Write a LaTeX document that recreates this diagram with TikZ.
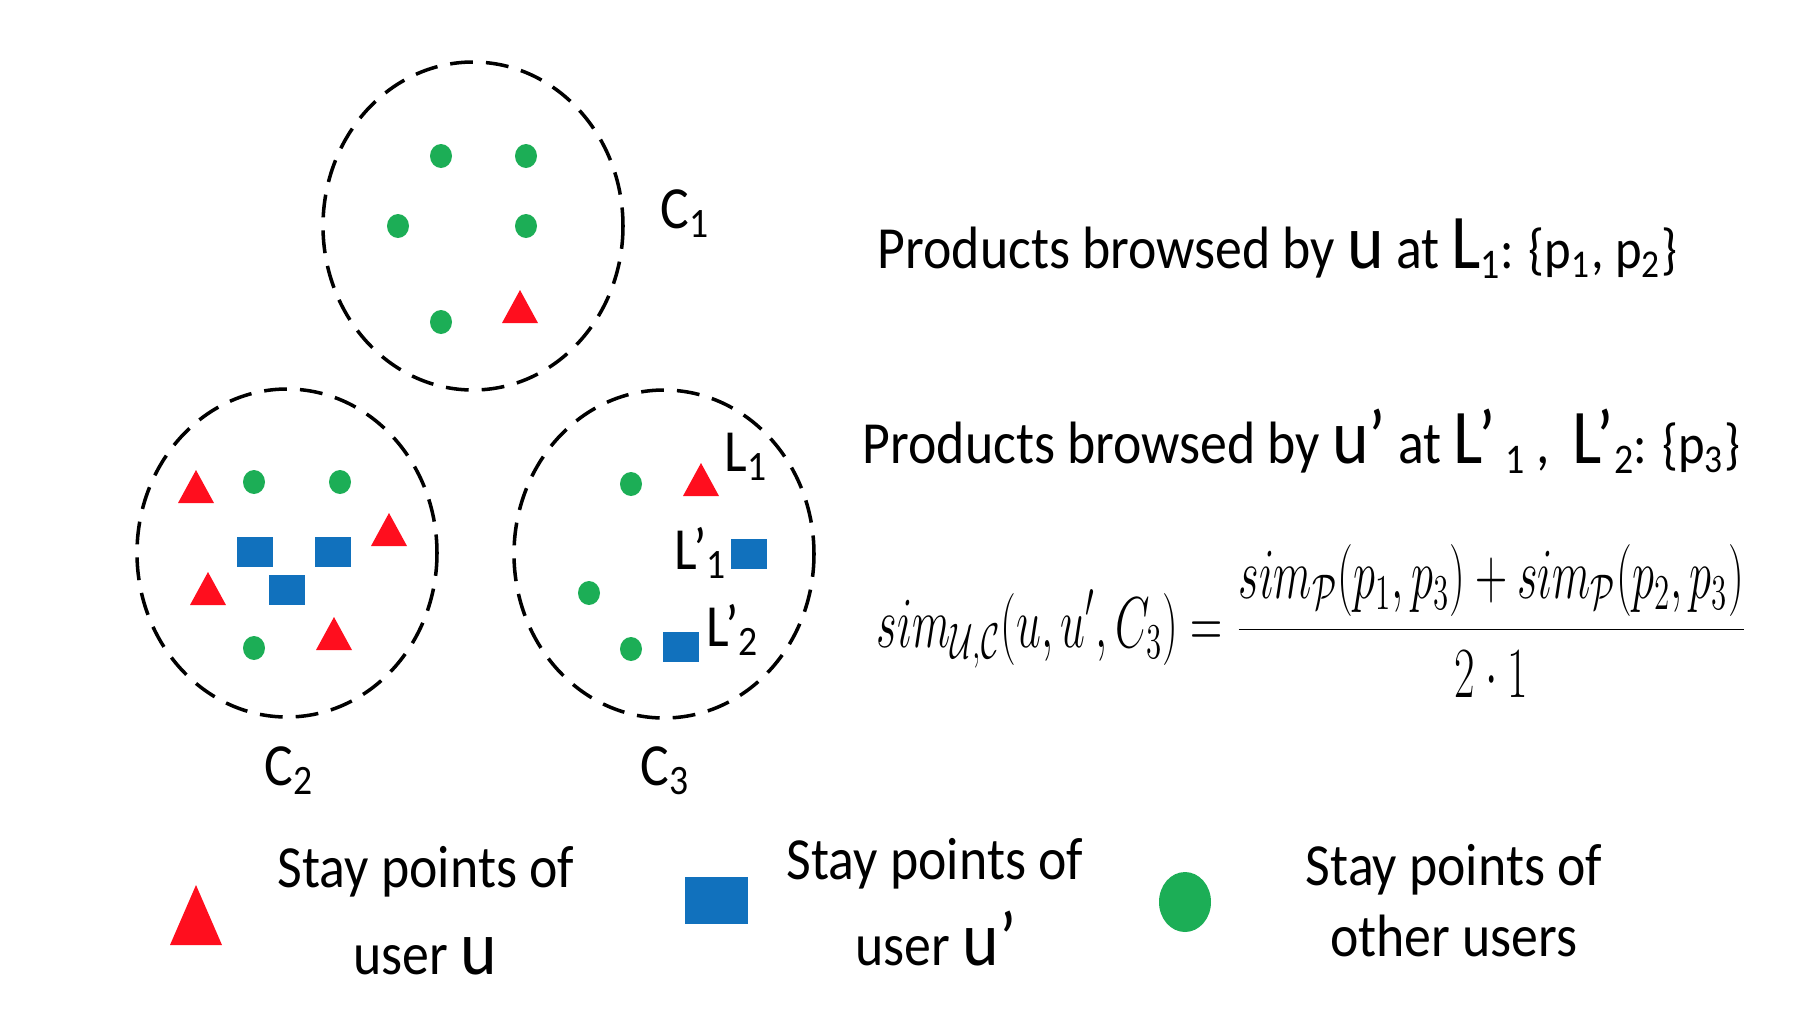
\documentclass[tikz,border=0pt]{standalone}
\usepackage{fontspec}
\setmainfont{Carlito}[FakeStretch=0.9]
\usepackage{graphicx}

\definecolor{spred}{RGB}{255,14,30}
\definecolor{spblue}{RGB}{17,113,189}
\definecolor{spgreen}{RGB}{28,174,86}

\newcommand{\bigf}{\fontsize{22}{24}\selectfont}
\newcommand{\smallf}{\fontsize{16}{18}\selectfont}
\newcommand{\lowsub}[1]{\raisebox{-0.1cm}{\fontsize{12}{12}\selectfont #1}}

\tikzset{
  cluster/.style={draw=black, line width=1pt, dash pattern=on 6.5pt off 3.7pt},
  txt/.style={inner sep=0pt, anchor=base},
  ptu/.pic={\fill[spred] (-18,0) -- (18,0) -- (0,-33) -- cycle;},
  ptv/.pic={\fill[spblue] (-18,-15) rectangle (18,15);},
  pto/.pic={\fill[spgreen] (0,0) ellipse [x radius=11, y radius=12];}
}

\begin{document}
\begin{tikzpicture}[x=0.01cm, y=-0.01cm, font=\fontsize{17}{20}\selectfont]
    \useasboundingbox (0,0) rectangle (1802,1014);

    % the three clusters
    \draw[cluster] (473,226) ellipse [x radius=150, y radius=164];
    \draw[cluster] (287,553) ellipse [x radius=150, y radius=164];
    \draw[cluster] (664,554) ellipse [x radius=150, y radius=164];

    \node[txt, anchor=base west] (c1) at (660,228) {C\textsubscript{1}};
    \node[txt, anchor=base west] (c2) at (264,785) {C\textsubscript{2}};
    \node[txt, anchor=base west] (c3) at (640,785) {C\textsubscript{3}};

    % C1
    \pic at (441,156) {pto};
    \pic at (526,156) {pto};
    \pic at (398,226) {pto};
    \pic at (526,226) {pto};
    \pic at (441,322) {pto};
    \pic at (520,323) {ptu};

    % C2
    \pic at (196,503) {ptu};
    \pic at (389,546) {ptu};
    \pic at (208,605) {ptu};
    \pic at (334,650) {ptu};
    \pic at (254,482) {pto};
    \pic at (340,482) {pto};
    \pic at (254,648) {pto};
    \pic at (255,552) {ptv};
    \pic at (333,552) {ptv};
    \pic at (287,590) {ptv};

    % C3
    \pic at (631,484) {pto};
    \pic at (589,593) {pto};
    \pic at (631,649) {pto};
    \pic at (701,496) {ptu};
    \pic at (749,554) {ptv};
    \pic at (681,647) {ptv};
    \node[txt, anchor=base west] (l1) at (724,471) {L\textsubscript{1}};
    \node[txt, anchor=base west] (l1p) at (674,569) {L’\textsubscript{1}};
    \node[txt, anchor=base west] (l2p) at (706,646) {L’\textsubscript{2}};

    % products and similarity
    \node[txt, anchor=base west] (produ) at (877,268)
        {Products browsed by {\bigf u} at {\bigf L}\lowsub{1}{\smallf: \{p\textsubscript{1}, p\textsubscript{2}\}}};
    \node[txt, anchor=base west] (produp) at (862,463)
        {Products browsed by {\bigf u’} at {\bigf L’}\,\lowsub{1} ,\, {\bigf L’}\lowsub{2}{\smallf: \{p\textsubscript{3}\}}};
    \node[inner sep=0pt] (simeq) at (1312,621)
        {\resizebox*{8.70cm}{1.52cm}{$\displaystyle sim_{\mathcal{U},\mathcal{C}}(u,u',C_3)=\frac{sim_{\mathcal{P}}(p_1,p_3)+sim_{\mathcal{P}}(p_2,p_3)}{2\cdot 1}$}};

    % legend
    \fill[spred] (170,945) -- (222,945) -- (196,885) -- cycle;
    \fill[spblue] (685,877) rectangle (748,924);
    \fill[spgreen] (1185,902) ellipse [x radius=26, y radius=30];
    \node[txt] (legu) at (426,887) {Stay points of};
    \node[txt] (leguu) at (425,974) {user {\bigf u}};
    \node[txt] (legup) at (935,879) {Stay points of};
    \node[txt] (legupu) at (936,965) {user {\bigf u’}};
    \node[txt] (lego) at (1454,885) {Stay points of};
    \node[txt] (legou) at (1454,956) {other users};
\end{tikzpicture}
\end{document}
